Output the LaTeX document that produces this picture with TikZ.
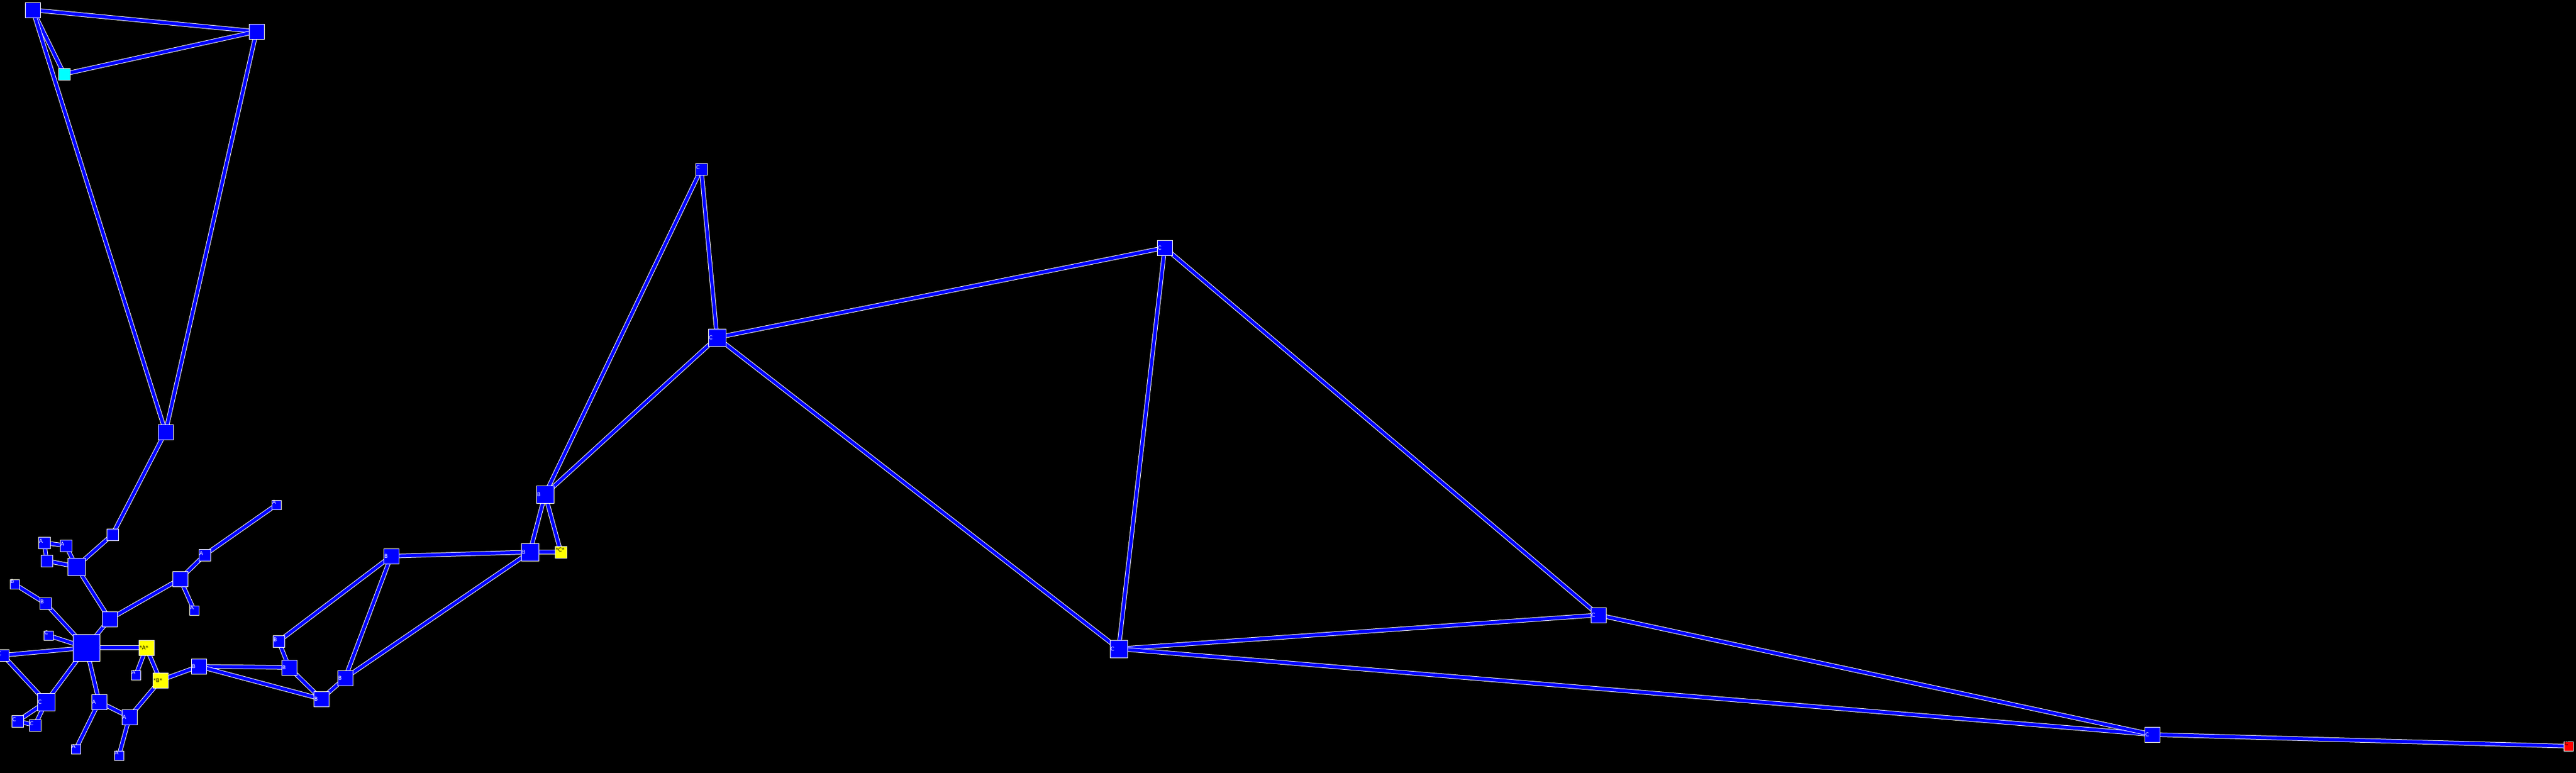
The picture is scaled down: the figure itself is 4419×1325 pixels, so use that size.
\documentclass[tikz,border=0pt]{standalone}
\usepackage{fontspec}
\setsansfont{DejaVu Sans}
\usetikzlibrary{backgrounds}
\definecolor{nblue}{RGB}{0,0,255}
\definecolor{nyel}{RGB}{255,255,0}
\definecolor{ncyan}{RGB}{0,255,255}
\definecolor{nred}{RGB}{255,0,0}
\newcommand{\lbfont}{\sffamily\fontsize{9}{9}\selectfont}
\tikzset{
 nd/.style={rectangle, fill=nblue, draw=white, line width=1pt, inner sep=0pt},
 s46/.style={nd,minimum size=46pt},
 s30/.style={nd,minimum size=30pt},
 s26/.style={nd,minimum size=26pt},
 s20/.style={nd,minimum size=20pt},
 s16/.style={nd,minimum size=16pt},
 lb/.style={anchor=west, xshift=1.5pt, text=white, font=\lbfont, inner sep=0pt},
 t0/.style={label={[lb]west:#1}},
 t3/.style={label={[lb,yshift=3pt]west:#1}},
 t5/.style={label={[lb,yshift=5pt]west:#1}},
 k0/.style={label={[lb,text=black]west:#1}},
 k4/.style={label={[lb,text=black,yshift=4pt]west:#1}},
 k5/.style={label={[lb,text=black,yshift=5pt]west:#1}},
 ed/.style={draw=white, line width=1pt, double=nblue, double distance=5.5pt},
}
\begin{document}
\begin{tikzpicture}[x=1pt,y=-1pt]
\useasboundingbox (0,0) rectangle (4419,1325);
% nodes
\node[s26] (tl) at (56,17) {};
\node[s26] (tr) at (440,54) {};
\node[s20,fill=ncyan] (cy) at (110,127) {};
\node[s26] (p) at (284,741) {};
\node[s20] (n1) at (193,917) {};
\node[s20,t3=A] (a1) at (76,931) {};
\node[s20,t3=A] (a2) at (113,936) {};
\node[s20] (n2) at (80,962) {};
\node[s30] (big1) at (131,972) {};
\node[s20,t3=A] (a3) at (351,952) {};
\node[s16,t5=A] (atop) at (474,866) {};
\node[s26] (n3) at (309,993) {};
\node[s16,t5=A] (a4) at (333,1047) {};
\node[s16,t5=B] (b1) at (25,1002) {};
\node[s20,t3=B] (b2) at (78,1035) {};
\node[s26] (n4) at (188,1062) {};
\node[s16,t5=C] (c1) at (83,1090) {};
\node[s46] (hub) at (148,1111) {};
\node[s20,t3=C] (c2) at (5,1124) {};
\node[s26,fill=nyel,k0=*A*] (ya) at (251,1111) {};
\node[s16,t5=A] (a5) at (233,1158) {};
\node[s26,fill=nyel,k0=*B*] (yb) at (275,1167) {};
\node[s26,t0=B] (b3) at (341,1143) {};
\node[s26,t0=B] (b4) at (496,1145) {};
\node[s20,t3=B] (b5) at (478,1100) {};
\node[s30,t0=C] (c3) at (79,1204) {};
\node[s20,t3=C] (c4) at (30,1237) {};
\node[s20,t3=C] (c5) at (60,1244) {};
\node[s26,t0=A] (a6) at (170,1204) {};
\node[s26,t0=A] (a7) at (222,1230) {};
\node[s16,t5=A] (a8) at (130,1285) {};
\node[s16,t5=A] (a9) at (204,1296) {};
\node[s26,t0=B] (b6) at (551,1199) {};
\node[s26,t0=B] (b7) at (592,1163) {};
\node[s26,t0=B] (b8) at (671,954) {};
\node[s30,t0=B] (b9) at (909,947) {};
\node[s30,t0=B] (b10) at (935,848) {};
\node[s20,fill=nyel,k4=*C*] (yc) at (962,947) {};
\node[s20,t3=C] (ctop) at (1203,290) {};
\node[s30,t0=C] (cbig) at (1230,579) {};
\node[s26,t0=C] (cc) at (1998,425) {};
\node[s30,t0=C] (cd) at (1919,1113) {};
\node[s26,t0=C] (ce) at (2742,1055) {};
\node[s26,t0=C] (cf) at (3692,1260) {};
\node[s16,fill=nred,k5=C] (cr) at (4406,1280) {};
% edges
\begin{pgfonlayer}{background}
\fill[black] (-10,-10) rectangle (4430,1336);
\foreach \a/\b in {tl/tr, tl/cy, tr/cy, tl/p, tr/p, p/n1, n1/big1, a1/a2, a1/n2,
  n2/big1, a2/big1, big1/n4, a3/n3, a3/atop, n3/n4, n3/a4, b1/b2, b2/hub, c1/hub,
  c2/hub, c2/c3, hub/n4, hub/ya, hub/c3, hub/a6, ya/a5, ya/yb, yb/b3, yb/a7,
  b3/b4, b3/b6, b5/b4, b5/b8, b4/b6, b6/b7, b7/b8, b7/b9, b8/b9, b9/yc, b10/b9,
  b10/yc, b10/ctop, b10/cbig, ctop/cbig, cbig/cc, cbig/cd, cc/cd, cc/ce, cd/ce,
  cd/cf, ce/cf, cf/cr, c3/c4, c3/c5, c4/c5, a6/a7, a6/a8, a7/a9}
  \draw[ed] (\a.center) -- (\b.center);
\end{pgfonlayer}
\end{tikzpicture}
\end{document}
